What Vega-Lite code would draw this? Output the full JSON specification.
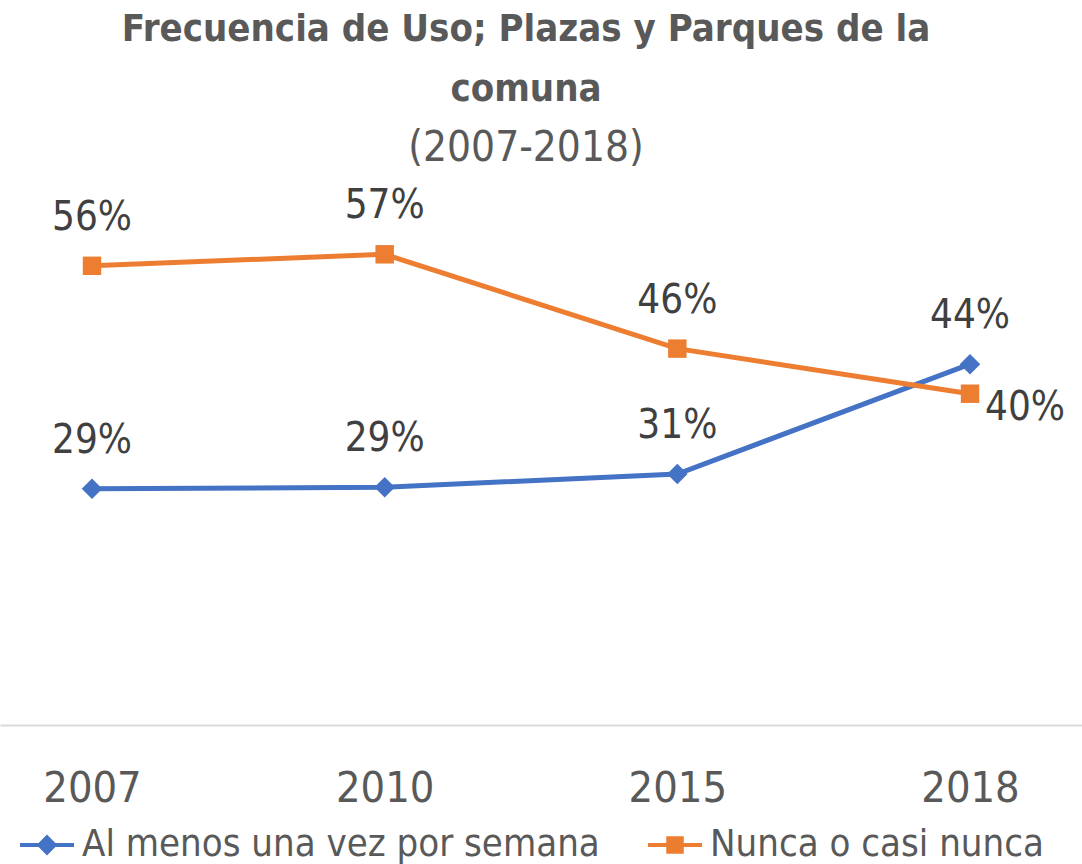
{
  "$schema": "https://vega.github.io/schema/vega-lite/v6.json",
  "width": 1082,
  "height": 533,
  "autosize": {"type": "none"},
  "padding": {"left": 0, "right": 0, "top": 192, "bottom": 139},
  "background": "white",
  "config": {"view": {"stroke": null}, "font": "DejaVu Sans Condensed, DejaVu Sans, sans-serif"},
  "title": {
    "text": ["Frecuencia de Uso; Plazas y Parques de la", "comuna"],
    "subtitle": "(2007-2018)",
    "anchor": "middle",
    "dx": -15,
    "offset": 17,
    "font": "DejaVu Sans Condensed, DejaVu Sans, sans-serif",
    "fontSize": 38,
    "fontWeight": "bold",
    "color": "#595959",
    "lineHeight": 60,
    "subtitleFont": "DejaVu Sans Condensed, DejaVu Sans, sans-serif",
    "subtitleFontSize": 42,
    "subtitleColor": "#595959",
    "subtitleLineHeight": 48,
    "subtitlePadding": 19
  },
  "data": {
    "values": [
      {"year": "2007", "serie": "Al menos una vez por semana", "value": 0.288},
      {"year": "2010", "serie": "Al menos una vez por semana", "value": 0.290},
      {"year": "2015", "serie": "Al menos una vez por semana", "value": 0.306},
      {"year": "2018", "serie": "Al menos una vez por semana", "value": 0.440},
      {"year": "2007", "serie": "Nunca o casi nunca", "value": 0.560},
      {"year": "2010", "serie": "Nunca o casi nunca", "value": 0.574},
      {"year": "2015", "serie": "Nunca o casi nunca", "value": 0.459},
      {"year": "2018", "serie": "Nunca o casi nunca", "value": 0.404}
    ]
  },
  "encoding": {
    "x": {
      "field": "year",
      "type": "ordinal",
      "sort": null,
      "scale": {"type": "point", "padding": 0.3485, "align": 0.451},
      "axis": {
        "title": null,
        "domain": true,
        "domainColor": "#d9d9d9",
        "domainWidth": 2,
        "ticks": false,
        "grid": false,
        "labelAngle": 0,
        "labelFontSize": 43,
        "labelColor": "#595959",
        "labelPadding": 42
      }
    },
    "y": {
      "field": "value",
      "type": "quantitative",
      "scale": {"domain": [0, 0.65], "nice": false, "zero": true},
      "axis": null
    },
    "color": {
      "field": "serie",
      "type": "nominal",
      "scale": {"domain": ["Al menos una vez por semana", "Nunca o casi nunca"], "range": ["#4472C4", "#ED7D31"]},
      "legend": {
        "orient": "none",
        "legendX": 18,
        "legendY": 624,
        "direction": "horizontal",
        "title": null,
        "labelFontSize": 38,
        "labelColor": "#595959",
        "labelLimit": 1000,
        "labelOffset": 6,
        "columnPadding": 40,
        "symbolSize": 2916,
        "symbolStrokeWidth": 4,
        "padding": 0,
        "encode": {
          "symbols": {
            "update": {
              "shape": {"signal": "datum.value === 'Al menos una vez por semana' ? 'M-1,0H1M0,-0.28L0.28,0L0,0.28L-0.28,0Z' : 'M-1,0H1M-0.25,-0.25H0.25V0.25H-0.25Z'"},
              "fill": {"signal": "scale('color', datum.value)"},
              "stroke": {"signal": "scale('color', datum.value)"},
              "strokeWidth": {"value": 4},
              "opacity": {"value": 1},
              "fillOpacity": {"value": 1},
              "strokeOpacity": {"value": 1}
            }
          }
        }
      }
    }
  },
  "layer": [
    {"mark": {"type": "line", "strokeWidth": 5}},
    {
      "transform": [{"filter": "datum.serie === 'Al menos una vez por semana'"}],
      "mark": {"type": "point", "filled": true, "opacity": 1, "size": 420, "shape": "diamond"}
    },
    {
      "transform": [{"filter": "datum.serie === 'Nunca o casi nunca'"}],
      "mark": {"type": "point", "filled": true, "opacity": 1, "size": 340, "shape": "square"}
    },
    {
      "transform": [{"filter": "!(datum.serie === 'Nunca o casi nunca' && datum.year === '2018')"}],
      "mark": {"type": "text", "fontSize": 40, "dy": -48, "baseline": "middle", "align": "center", "color": "#404040"},
      "encoding": {"text": {"field": "value", "type": "quantitative", "format": ".0%"}, "color": {"value": "#404040"}}
    },
    {
      "transform": [{"filter": "datum.serie === 'Nunca o casi nunca' && datum.year === '2018'"}],
      "mark": {"type": "text", "fontSize": 40, "dx": 15, "dy": 14, "baseline": "middle", "align": "left", "color": "#404040"},
      "encoding": {"text": {"field": "value", "type": "quantitative", "format": ".0%"}, "color": {"value": "#404040"}}
    }
  ]
}
